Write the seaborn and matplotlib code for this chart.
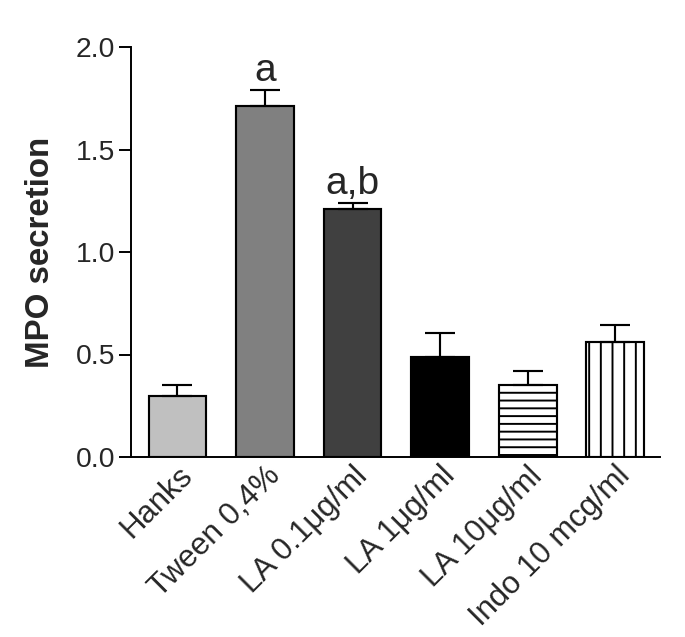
import matplotlib
matplotlib.use("Agg")
import matplotlib.pyplot as plt
import seaborn as sns
import pandas as pd
import numpy as np

# Data
groups = ["Hanks", "Tween 0,4%", "LA 0.1\u03bcg/ml", "LA 1\u03bcg/ml", "LA 10\u03bcg/ml", "Indo 10 mcg/ml"]
mpo = [0.30, 1.71, 1.21, 0.49, 0.35, 0.56]
sem = [0.05, 0.08, 0.03, 0.115, 0.07, 0.085]
letters = ["", "a", "a,b", "", "", ""]

colors = ["#c0c0c0", "#808080", "#404040", "#000000", "#ffffff", "#ffffff"]
hatches = ["", "", "", "", "---", "||"]

sns.set_style("ticks")
plt.rcParams["font.family"] = ["Liberation Sans", "DejaVu Sans"]
plt.rcParams["hatch.linewidth"] = 1.0
plt.rcParams["axes.linewidth"] = 1.0

dpi = 140
fig = plt.figure(figsize=(685 / dpi, 637 / dpi), dpi=dpi)
ax = fig.add_axes([131 / 685, 1 - 457 / 637, (660 - 131) / 685, (457 - 47) / 637])

df = pd.DataFrame({"group": groups, "mpo": mpo})
sns.barplot(
    data=df, x="group", y="mpo", hue="group", palette=colors,
    width=0.66, saturation=1, edgecolor="black", linewidth=1.1,
    errorbar=None, legend=False, ax=ax
)

for bar, h in zip(ax.patches, hatches):
    bar.set_hatch(h)

# Error bars (upper only)
ax.errorbar(
    np.arange(len(groups)), mpo, yerr=[np.zeros(len(sem)), sem],
    fmt="none", ecolor="black", elinewidth=1.1, capsize=7.7, capthick=1.1
)

# Significance letters
for i, lab in enumerate(letters):
    if lab:
        ax.text(i, mpo[i] + sem[i] + 0.045, lab, ha="center", va="baseline", fontsize=20)

ax.set_xlim(-0.53, 5.51)
ax.set_ylim(0, 2.0)
ax.set_yticks([0, 0.5, 1.0, 1.5, 2.0])
ax.set_yticklabels(["0.0", "0.5", "1.0", "1.5", "2.0"], fontsize=14.5)
ax.tick_params(axis="y", length=6, width=1.0, color="black", pad=2)
ax.tick_params(axis="x", length=0, pad=2)
ax.set_xticks(range(len(groups)))
ax.set_xticklabels(groups, rotation=45, ha="right", rotation_mode="anchor", fontsize=16)

ax.set_xlabel("")
ax.set_ylabel("MPO secretion", fontsize=17, fontweight="bold", labelpad=10)
sns.despine(ax=ax)
for s in ["left", "bottom"]:
    ax.spines[s].set_color("black")

fig.savefig("out.png", dpi=dpi)
